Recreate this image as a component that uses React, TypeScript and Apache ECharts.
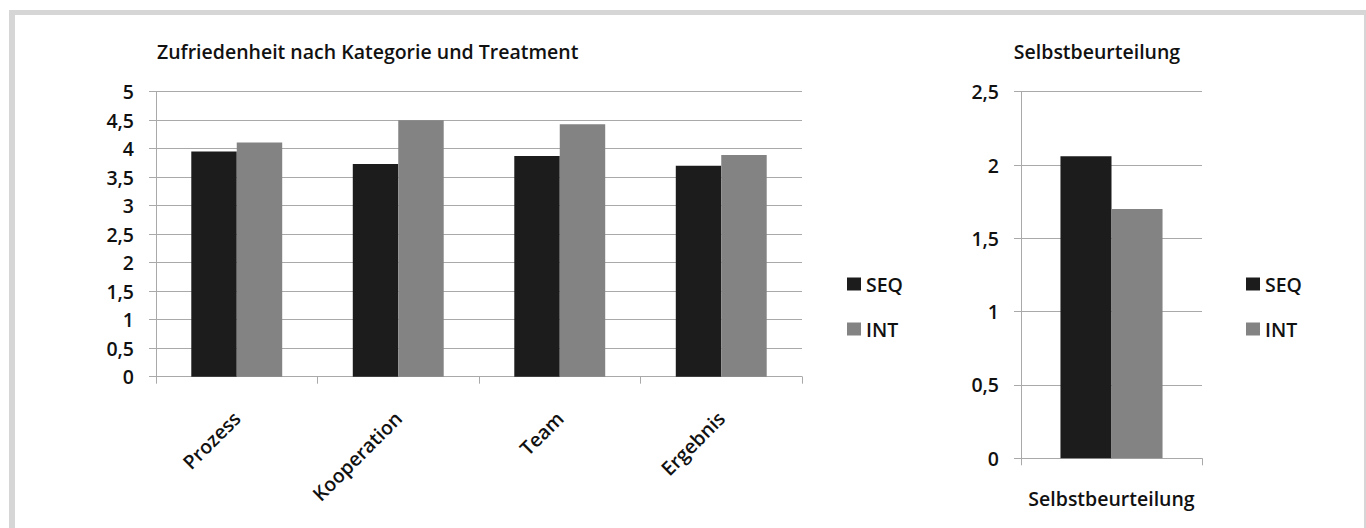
import React, { useEffect, useRef } from "react";
import * as echarts from "echarts";

const categories = ["Prozess", "Kooperation", "Team", "Ergebnis"];
const seqValues = [3.95, 3.73, 3.87, 3.7];
const intValues = [4.11, 4.5, 4.43, 3.89];

const selfCategories = ["Selbstbeurteilung"];
const selfSeq = [2.06];
const selfInt = [1.7];

const seriesNames = ["SEQ", "INT"];
const titleLeft = "Zufriedenheit nach Kategorie und Treatment";
const titleRight = "Selbstbeurteilung";

const FONT = "'Open Sans', sans-serif";
const DARK = "#1c1c1c";
const GRAY = "#838383";
const LINE = "#a9a9a9";
const TEXT = "#111111";
const FS = 19.5;
const FW = 600;

const fmt = (v: number) => String(v).replace(".", ",");

export default function App() {
  const ref = useRef<HTMLDivElement>(null);
  useEffect(() => {
    if (!ref.current) return;
    const chart = echarts.init(ref.current, null, { renderer: "svg" });
    const axisCommon = {
      axisLine: { show: true, lineStyle: { color: LINE, width: 1 } },
      axisTick: { show: true, length: 7, lineStyle: { color: LINE } },
    };
    const legendCommon = {
      orient: "vertical",
      data: seriesNames,
      itemWidth: 14,
      itemHeight: 13,
      itemGap: 23,
      icon: "rect",
      textStyle: { fontFamily: FONT, fontSize: FS, fontWeight: FW, color: TEXT, lineHeight: 22 },
      selectedMode: false,
    };
    const labelStyle = { fontFamily: FONT, fontSize: FS, fontWeight: FW, color: TEXT };
    chart.setOption({
      animation: false,
      backgroundColor: "#ffffff",
      graphic: [
        { type: "rect", shape: { x: 9, y: 10, width: 1357, height: 5 }, style: { fill: "#d6d6d6" } },
        { type: "rect", shape: { x: 9, y: 10, width: 6, height: 518 }, style: { fill: "#d6d6d6" } },
        { type: "rect", shape: { x: 1364, y: 10, width: 2, height: 518 }, style: { fill: "#d6d6d6" } },
      ],
      title: [
        {
          text: titleLeft,
          left: 152,
          top: 36,
          textStyle: { ...labelStyle },
        },
        {
          text: titleRight,
          left: 1092,
          top: 36,
          textAlign: "center",
          textStyle: { ...labelStyle },
        },
      ],
      legend: [
        { ...legendCommon, left: 842, top: 268 },
        { ...legendCommon, left: 1241, top: 268 },
      ],
      grid: [
        { left: 156, top: 91.7, width: 646, height: 285 },
        { left: 1021, top: 91.7, width: 181, height: 366.6 },
      ],
      xAxis: [
        {
          type: "category",
          gridIndex: 0,
          data: categories,
          ...axisCommon,
          axisLabel: { rotate: 45, margin: 38, ...labelStyle },
        },
        {
          type: "category",
          gridIndex: 1,
          data: selfCategories,
          ...axisCommon,
          axisLabel: { margin: 30, ...labelStyle },
        },
      ],
      yAxis: [
        {
          type: "value",
          gridIndex: 0,
          min: 0,
          max: 5,
          interval: 0.5,
          ...axisCommon,
          axisLabel: { margin: 22, ...labelStyle, formatter: fmt },
          splitLine: { show: true, lineStyle: { color: LINE, width: 1.2 } },
        },
        {
          type: "value",
          gridIndex: 1,
          min: 0,
          max: 2.5,
          interval: 0.5,
          ...axisCommon,
          axisLabel: { margin: 22, ...labelStyle, formatter: fmt },
          splitLine: { show: true, lineStyle: { color: LINE, width: 1.2 } },
        },
      ],
      series: [
        {
          name: seriesNames[0],
          type: "bar",
          xAxisIndex: 0,
          yAxisIndex: 0,
          data: seqValues,
          itemStyle: { color: DARK },
          barGap: "0%",
          barCategoryGap: "43.7%",
        },
        {
          name: seriesNames[1],
          type: "bar",
          xAxisIndex: 0,
          yAxisIndex: 0,
          data: intValues,
          itemStyle: { color: GRAY },
          barGap: "0%",
          barCategoryGap: "43.7%",
        },
        {
          name: seriesNames[0],
          type: "bar",
          xAxisIndex: 1,
          yAxisIndex: 1,
          data: selfSeq,
          itemStyle: { color: DARK },
          barGap: "0%",
          barCategoryGap: "43.6%",
        },
        {
          name: seriesNames[1],
          type: "bar",
          xAxisIndex: 1,
          yAxisIndex: 1,
          data: selfInt,
          itemStyle: { color: GRAY },
          barGap: "0%",
          barCategoryGap: "43.6%",
        },
      ],
    });
    return () => chart.dispose();
  }, []);
  return (
    <div
      ref={ref}
      style={{ position: "fixed", left: 0, top: 0, width: 1366, height: 528 }}
    />
  );
}
